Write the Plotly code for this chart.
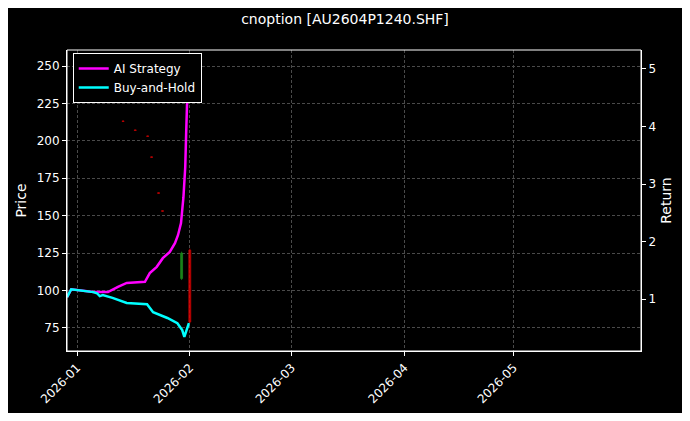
import plotly.graph_objects as go

line_dates = ["2025-12-29 06:00", "2025-12-30 10:00", "2026-01-05 12:00", "2026-01-06 12:00",
              "2026-01-07 06:00", "2026-01-08 02:00", "2026-01-10 18:00", "2026-01-14 16:00",
              "2026-01-20 06:00", "2026-01-21 22:00", "2026-01-25 20:00", "2026-01-28 14:00",
              "2026-01-29 22:00", "2026-01-30 12:00", "2026-01-31 18:00"]
bh_return = [1.03, 1.17, 1.12, 1.10, 1.05, 1.07, 1.02, 0.93, 0.91, 0.77, 0.67, 0.58, 0.46, 0.34, 0.58]

ai_dates = ["2025-12-29 06:00", "2025-12-30 10:00", "2026-01-05 12:00", "2026-01-09 12:00",
            "2026-01-12 06:00", "2026-01-14 16:00", "2026-01-19 16:00", "2026-01-21 00:00",
            "2026-01-22 22:00", "2026-01-24 14:00", "2026-01-26 12:00", "2026-01-27 22:00",
            "2026-01-28 18:00", "2026-01-29 14:00", "2026-01-30 06:00", "2026-01-30 18:00",
            "2026-01-31 00:00", "2026-01-31 08:00", "2026-01-31 14:00"]
ai_return = [1.03, 1.17, 1.12, 1.12, 1.21, 1.28, 1.30, 1.45, 1.56, 1.71, 1.82, 1.97,
             2.11, 2.32, 2.77, 3.30, 3.89, 4.46, 5.10]

candle_dates = ["2026-01-13 16:00", "2026-01-17 00:00", "2026-01-20 10:00", "2026-01-21 12:00",
                "2026-01-23 10:00", "2026-01-24 12:00", "2026-01-29 18:00", "2026-02-01 00:00"]
c_open = [213.3, 207.3, 203.3, 189.3, 165.3, 153.3, 108, 127]
c_high = [213.4, 207.4, 203.4, 189.4, 165.4, 153.4, 126, 128]
c_low = [213, 207, 203, 189, 165, 153, 107, 78]
c_close = [213, 207, 203, 189, 165, 153, 125, 79]

fig = go.Figure()
fig.add_trace(go.Candlestick(x=candle_dates, open=c_open, high=c_high, low=c_low, close=c_close,
                             increasing=dict(line=dict(color="#1f9a1f", width=0.8), fillcolor="#1f9a1f"),
                             decreasing=dict(line=dict(color="#e00000", width=0.8), fillcolor="#e00000"),
                             whiskerwidth=0, showlegend=False, yaxis="y", opacity=0.85))
fig.add_trace(go.Scatter(x=ai_dates, y=ai_return, mode="lines", name="AI Strategy",
                         line=dict(color="#ff00ff", width=2.5), yaxis="y2"))
fig.add_trace(go.Scatter(x=line_dates, y=bh_return, mode="lines", name="Buy-and-Hold",
                         line=dict(color="#00ffff", width=2.5), yaxis="y2"))

axis_common = dict(showline=True, linecolor="white", mirror=False, ticks="outside", ticklen=4,
                   tickcolor="white", color="white", zeroline=False, automargin=False)
grid = dict(showgrid=True, gridcolor="#4a4a4a", griddash="3px,2px", gridwidth=0.5)
fig.update_layout(
    width=674, height=405, paper_bgcolor="black", plot_bgcolor="black",
    font=dict(family="DejaVu Sans", size=12, color="white"),
    margin=dict(l=59, r=41, t=42, b=62),
    title=dict(text="cnoption [AU2604P1240.SHF]", x=0.5, xanchor="center", y=0.985, font=dict(size=14)),
    xaxis=dict(range=["2025-12-29 06:00", "2026-06-05"], type="date", tickformat="%Y-%m",
               tickvals=["2026-01-01", "2026-02-01", "2026-03-01", "2026-04-01", "2026-05-01"],
               tickangle=-45, rangeslider=dict(visible=False), **grid, **axis_common),
    yaxis=dict(title=dict(text="Price", standoff=6), range=[59.6, 260.7], tickvals=[75, 100, 125, 150, 175, 200, 225, 250],
               **grid, **axis_common),
    yaxis2=dict(title=dict(text="Return", standoff=6), overlaying="y", side="right", range=[0.096, 5.33],
                tickvals=[1, 2, 3, 4, 5], showgrid=False, **axis_common),
    legend=dict(x=0.01, y=0.99, xanchor="left", yanchor="top", bgcolor="black",
                bordercolor="white", borderwidth=1, font=dict(size=12, color="white")),
    shapes=[dict(type="rect", xref="paper", yref="paper", x0=0, y0=0, x1=1, y1=1,
                 line=dict(color="white", width=1))],
)
fig.write_html("out.html")
